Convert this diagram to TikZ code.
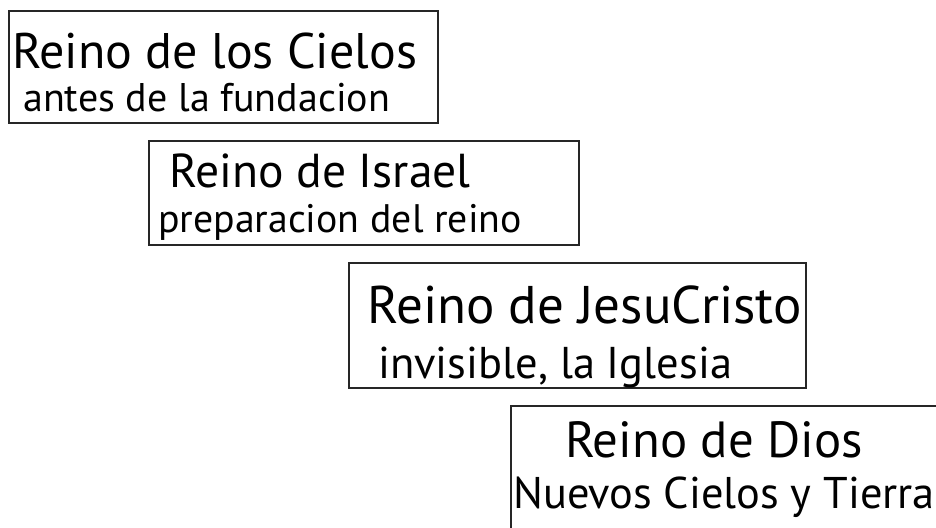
\documentclass[tikz,border=0pt]{standalone}
\usepackage{fontspec}
\setmainfont{PT Sans}

\tikzstyle{reino} = [rectangle, draw=black!85, line width=1.6pt, anchor=north west, inner sep=0pt]
\tikzstyle{titulo} = [anchor=base west, inner sep=0pt]

\begin{document}
\begin{tikzpicture}[x=1pt,y=-1pt]

\useasboundingbox (0,0) rectangle (936,527);

\node (cielos) [reino, minimum width=429pt, minimum height=112pt] at (8,10) {};
\node (israel) [reino, minimum width=430pt, minimum height=104pt] at (148,140) {};
\node (cristo) [reino, minimum width=457pt, minimum height=125pt] at (348,262) {};
\node (dios) [reino, minimum width=460pt, minimum height=140pt] at (510,405) {};

\node (cielosA) [titulo, font=\fontsize{50}{56}\selectfont] at (12,68) {Reino de los Cielos};
\node (cielosB) [titulo, font=\fontsize{40}{45}\selectfont] at (23,111) {antes de la fundacion};
\node (israelA) [titulo, font=\fontsize{47.6}{53}\selectfont] at (169,187) {Reino de Israel};
\node (israelB) [titulo, font=\fontsize{39.8}{45}\selectfont] at (158,232) {preparacion del reino};
\node (cristoA) [titulo, font=\fontsize{53}{59}\selectfont] at (367,323) {Reino de JesuCristo};
\node (cristoB) [titulo, font=\fontsize{44.5}{50}\selectfont] at (378,378) {invisible, la Iglesia};
\node (diosA) [titulo, font=\fontsize{50.8}{56}\selectfont] at (565,457) {Reino de Dios};
\node (diosB) [titulo, font=\fontsize{44.4}{50}\selectfont] at (513,508) {Nuevos Cielos y Tierra};

\end{tikzpicture}
\end{document}
